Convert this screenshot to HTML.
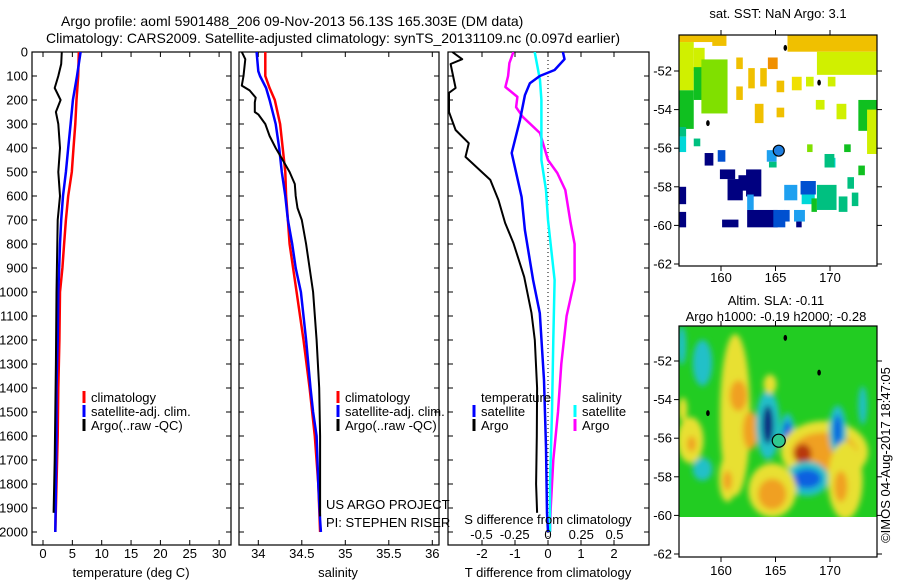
<!DOCTYPE html>
<html><head><meta charset="utf-8"><style>
html,body{margin:0;padding:0;background:#fff;width:900px;height:580px;overflow:hidden}
svg{display:block;font-family:"Liberation Sans",sans-serif}
</style></head><body>
<svg id="fig" width="900" height="580" xmlns="http://www.w3.org/2000/svg">
<defs>
<filter id="blur" x="-50%" y="-50%" width="200%" height="200%"><feGaussianBlur stdDeviation="3"/></filter>
<clipPath id="slaClip"><rect x="679" y="326" width="198" height="191"/></clipPath>
<clipPath id="p1c"><rect x="32" y="52" width="199" height="493"/></clipPath>
<clipPath id="p2c"><rect x="239" y="52" width="200" height="493"/></clipPath>
<clipPath id="p3c"><rect x="448" y="52" width="201" height="493"/></clipPath>
</defs>
<text x="61" y="26" font-size="14">Argo profile: aoml 5901488_206 09-Nov-2013 56.13S 165.303E (DM data)</text>
<text x="46" y="43" font-size="14">Climatology: CARS2009. Satellite-adjusted climatology: synTS_20131109.nc (0.097d earlier)</text>
<text x="778" y="18" font-size="13" text-anchor="middle">sat. SST: NaN Argo: 3.1</text>
<text x="776" y="305" font-size="13" text-anchor="middle">Altim. SLA: -0.11</text>
<text x="776" y="321" font-size="13" text-anchor="middle">Argo h1000: -0.19 h2000: -0.28</text>
<text x="0" y="0" font-size="13" text-anchor="middle" transform="translate(890,455) rotate(-90)">©IMOS 04-Aug-2017 18:47:05</text>
<g id="g"></g>
</svg>
<script>
// ---------- profile data ----------
const tClimDepth=[0,100,200,300,400,500,600,700,800,900,1000,1200,1400,1600,1800,2000];
const tClimVal=[6.1,6.0,5.7,5.5,5.2,4.9,4.3,3.9,3.6,3.3,2.9,2.8,2.6,2.5,2.3,2.1];
const tSatDepth=[0,100,200,300,400,500,600,700,800,1000,1200,1400,1600,1800,2000];
const tSatVal=[6.4,5.8,5.1,4.7,4.3,3.9,3.4,3.1,2.9,2.6,2.5,2.3,2.3,2.2,2.1];
const tArgoDepth=[0,50,100,150,200,250,300,400,500,600,700,1000,1300,1500,1700,1920];
const tArgoVal=[3.2,3.1,2.6,2.0,3.0,2.2,2.6,2.9,2.6,2.9,2.5,2.3,2.2,2.1,2.0,1.8];

const sClimDepth=[0,100,150,200,300,400,500,600,700,800,900,1000,1200,1400,1500,1600,1800,2000];
const sClimVal=[34.08,34.08,34.13,34.19,34.25,34.28,34.31,34.32,34.34,34.36,34.40,34.44,34.52,34.59,34.62,34.65,34.69,34.71];
const sSatDepth=[0,80,100,150,200,300,400,500,600,700,800,900,1000,1200,1400,1500,1600,1800,1950,2000];
const sSatVal=[33.98,34.0,34.02,34.09,34.13,34.20,34.24,34.27,34.31,34.34,34.39,34.43,34.49,34.55,34.60,34.63,34.67,34.69,34.71,34.72];
const sArgoDepth=[0,30,100,140,160,190,210,250,260,300,350,400,450,500,550,600,650,700,800,900,1000,1200,1400,1600,1935];
const sArgoVal=[33.81,33.85,33.83,33.81,33.90,33.97,33.96,33.96,34.0,34.08,34.13,34.20,34.28,34.36,34.42,34.43,34.45,34.50,34.55,34.59,34.63,34.67,34.70,34.71,34.71];

const dTSatDepth=[0,30,75,100,130,180,283,421,604,742,950,1088,1367,1646,1921,2000];
const dTSatVal=[0.45,0.5,0.2,-0.25,-0.55,-0.7,-0.85,-1.1,-0.8,-0.7,-0.45,-0.25,-0.12,-0.06,-0.03,0];
const dTArgoDepth=[0,30,50,150,170,250,325,380,437,533,617,712,796,937,1088,1200,1400,1600,1800,1920];
const dTArgoVal=[-2.9,-2.6,-2.95,-2.8,-3.0,-3.0,-2.8,-2.4,-2.5,-1.75,-1.5,-1.3,-1.05,-0.72,-0.5,-0.4,-0.33,-0.34,-0.36,-0.33];
const dSSatDepth=[0,117,200,350,450,575,700,950,1200,1500,1800,2000];
const dSSatVal=[-0.1,-0.06,-0.05,-0.05,-0.05,-0.015,0.0,0.05,0.04,0.03,0.015,0.015];
const dSArgoDepth=[0,46,100,146,187,230,270,338,450,504,575,712,800,950,1100,1300,1500,1700,1900,2000];
const dSArgoVal=[-0.26,-0.29,-0.30,-0.32,-0.23,-0.24,-0.19,-0.06,0.0,0.07,0.13,0.17,0.2,0.2,0.14,0.1,0.075,0.04,0.02,0.015];

const depthTicks=[0,100,200,300,400,500,600,700,800,900,1000,1100,1200,1300,1400,1500,1600,1700,1800,1900,2000];
const tempTicks=[0,5,10,15,20,25,30];
const salTicks=[34,34.5,35,35.5,36];
const salTickLabels=["34","34.5","35","35.5","36"];
const dTTicks=[-2,-1,0,1,2];
const dSTicks=[-0.5,-0.25,0,0.25,0.5];
const dSTickLabels=["-0.5","-0.25","0","0.25","0.5"];

// ---------- map data ----------
const lonTicks=[160,165,170];
const latTicks=[-52,-54,-56,-58,-60,-62];
const argoLon=165.3, argoLat=-56.13;
const sstLon1=[156.15,156.15,156.15,157.5,157.5,158.2,159.2,161.4,162.5,161.4,163.6,164.3,165.1,165.1,163.1,166.1,168.8,166.5,167.8,168.7,169.8,170.6,172.6,173.4,167.9,171.3,156.15,156.15,157.5,158.5,159.7,164.2,164.4,159.9,160.6,161.6,162.3,162.4,164.8,165.8,156.15,156.15,160.1,162.4,165.8,167.3,167.4,168.8,170.8,168.3,170.0,169.5,171.6,172.6,172.0,166.7,166.9];
const sstLon2=[159.5,157.5,157.5,158.5,159.5,160.6,160.5,162.0,163.1,162.0,164.2,165.2,165.8,165.8,163.9,174.3,174.3,167.4,168.5,169.5,170.5,171.5,174.3,174.3,168.4,171.9,156.8,156.8,158.1,159.3,160.4,165.1,165.1,161.3,162.0,162.5,163.7,165.2,165.9,167.0,156.8,156.8,161.6,163.0,166.3,168.7,168.6,170.6,171.6,168.8,170.5,170.4,172.2,173.2,172.6,167.7,167.4];
const sstLatT=[-50.13,-50.5,-53,-50.8,-51.8,-51.4,-50.13,-51.3,-51.85,-52.8,-51.85,-51.3,-52.5,-53.9,-53.7,-50.13,-51.0,-52.3,-52.3,-53.5,-52.3,-53.7,-53.5,-54.0,-55.8,-55.8,-54.9,-55.4,-55.5,-56.25,-56.1,-56.1,-56.7,-57.1,-57.6,-57.4,-57.1,-59.2,-59.2,-57.9,-58.0,-59.3,-59.7,-58.4,-59.2,-57.7,-58.4,-57.9,-58.5,-58.6,-56.5,-56.3,-57.5,-56.9,-58.3,-59.2,-59.8];
const sstLatB=[-50.5,-53,-55,-52,-53.5,-54.2,-50.7,-51.9,-52.9,-53.5,-52.8,-51.9,-53.1,-54.4,-54.7,-51.0,-52.2,-53.0,-52.8,-54.0,-52.8,-54.5,-55.1,-56.3,-56.2,-56.2,-55.4,-56.2,-55.9,-56.9,-56.7,-56.7,-57.0,-57.6,-58.7,-58.2,-58.5,-60.1,-60.1,-58.7,-58.9,-60.1,-60.1,-59.2,-59.8,-58.4,-58.9,-59.2,-59.3,-59.3,-57.0,-57.0,-58.1,-57.4,-59.0,-59.8,-60.1];
const sstVal=[9,7,5,7,5,6,9,9,9,9,9,10,9,9,9,9,7,8,7,7,7,7,5,7,6,5,4,3,4,0,1,2,4,0,0,0,0,0,1,2,0,0,0,2,1,1,3,4,4,5,3,4,4,5,4,2,0];
const sstPalette=["#000080","#0050d0","#1ea0f0","#00d8d8","#00c080","#10c020","#80e000","#d0f000","#f0e000","#f0c000","#f09000"];
const slaLon=[161.3,156.5,157.2,161.6,162.7,157.3,164.3,164.3,166.1,166.1,169.5,169.5,167.5,167.9,167.9,164.7,164.7,170.7,170.7,158.3,173.0,171.4,171.0,160.6,160.6,158.3,156.4,164.5,156.5];
const slaLat=[-54.8,-54.5,-56.1,-53.8,-55.6,-56.3,-55.3,-55.3,-55.9,-55.9,-56.7,-56.7,-56.8,-58.1,-58.1,-58.7,-58.9,-55.6,-55.6,-52.1,-54.3,-58.2,-58.5,-58.1,-58.2,-57.6,-51.2,-53.2,-54.5];
const slaRLon=[1.4,0.4,1.2,0.8,0.7,0.4,1.1,0.5,0.7,0.4,4.0,3.0,0.8,2.0,1.3,2.2,1.3,0.8,0.4,0.9,0.4,1.6,0.6,0.8,0.4,0.9,0.4,0.6,0.4];
const slaRLat=[4.2,0.6,1.2,0.8,1.0,0.4,1.8,1.0,1.2,0.8,1.6,1.0,0.5,0.9,0.5,1.4,0.8,1.3,0.8,1.2,1.0,2.0,0.8,1.2,0.5,0.6,1.0,0.5,0.6];
const slaVal=[4,4,4,5,5,5,2,0,2,1,4,5,6,2,1,4,5,2,1,2,2,4,5,4,5,2,2,4,4];
const slaPalette=["#102080","#1060e0","#20c0c8","#e0e020","#e8e030","#f0a020","#b83810"];

// ---------- helpers ----------
const NS="http://www.w3.org/2000/svg";
const root=document.getElementById('g');
const FS=13;
function mk(tag,attrs,parent){const e=document.createElementNS(NS,tag);for(const k in attrs)e.setAttribute(k,attrs[k]);(parent||root).appendChild(e);return e;}
function txt(x,y,s,size,anchor,parent){const e=mk('text',{x:x,y:y,'font-size':size,'text-anchor':anchor||'start'},parent);e.textContent=s;return e;}

const yD=d=>52+d*0.24;
const xT=t=>43+t*5.87;
const xS=s=>258.3+(s-34)*87;
const xdT=v=>548+v*33;
const xdS=v=>548+v*133;

function frame(x0,x1,name,xTickPos){
  const r=mk('rect',{x:x0,y:52,width:x1-x0,height:493,fill:'none',stroke:'#000','stroke-width':1.2});
  
  
  depthTicks.forEach(d=>{
    const t1=mk('line',{x1:x0,x2:x0+5,y1:yD(d),y2:yD(d),stroke:'#000'});
    
    
    const t2=mk('line',{x1:x1-5,x2:x1,y1:yD(d),y2:yD(d),stroke:'#000'});
    
    
  });
  xTickPos.forEach(x=>{
    const a=mk('line',{x1:x,x2:x,y1:52,y2:57,stroke:'#000'});
    
    
    const b=mk('line',{x1:x,x2:x,y1:540,y2:545,stroke:'#000'});
    
    
  });
}
function stepLine(depths,vals,xf,color,w,name,clip){
  let d='';
  for(let i=0;i<depths.length;i++){
    const x=xf(vals[i]).toFixed(1),y=yD(depths[i]).toFixed(1);
    if(i===0)d+='M'+x+' '+y;else d+=' L'+x+' '+y;
  }
  const p=mk('path',{d:d,fill:'none',stroke:color,'stroke-width':w,'stroke-linejoin':'round','clip-path':'url(#'+clip+')'});
  
  
}
function legendItem(x,y,color,label,name){
  const m=mk('line',{x1:x,x2:x,y1:y-11,y2:y+1,stroke:color,'stroke-width':3});
  
  
  const t=txt(x+7,y,label,FS);
  
  
}

depthTicks.forEach(d=>{const t=txt(28,yD(d)+4.5,String(d),FS,'end');
  
  });

// ---- panel 1 temperature ----
frame(32,231,'temperature-panel',tempTicks.map(xT));
tempTicks.forEach(t=>{const e=txt(xT(t),558,String(t),FS,'middle');
  
  });
let e1=txt(131,577,'temperature (deg C)',FS,'middle');


stepLine(tClimDepth,tClimVal,xT,'#ff0000',2.5,'temperature-climatology-line','p1c');
stepLine(tSatDepth,tSatVal,xT,'#0000ff',2.5,'temperature-satellite-line','p1c');
stepLine(tArgoDepth,tArgoVal,xT,'#000',2,'temperature-argo-line','p1c');
legendItem(84,402,'#ff0000','climatology','temp-legend-climatology');
legendItem(84,416,'#0000ff','satellite-adj. clim.','temp-legend-satellite');
legendItem(84,430,'#000','Argo(..raw -QC)','temp-legend-argo');

// ---- panel 2 salinity ----
frame(239,439,'salinity-panel',salTicks.map(xS));
salTicks.forEach((s,i)=>{const e=txt(xS(s),558,salTickLabels[i],FS,'middle');
  
  });
let e2=txt(338,577,'salinity',FS,'middle');


stepLine(sClimDepth,sClimVal,xS,'#ff0000',2.5,'salinity-climatology-line','p2c');
stepLine(sSatDepth,sSatVal,xS,'#0000ff',2.5,'salinity-satellite-line','p2c');
stepLine(sArgoDepth,sArgoVal,xS,'#000',2,'salinity-argo-line','p2c');
legendItem(338,402,'#ff0000','climatology','sal-legend-climatology');
legendItem(338,416,'#0000ff','satellite-adj. clim.','sal-legend-satellite');
legendItem(338,430,'#000','Argo(..raw -QC)','sal-legend-argo');
let e3=txt(326,509,'US ARGO PROJECT',FS);


let e4=txt(326,527,'PI: STEPHEN RISER',FS);



// ---- panel 3 differences ----
frame(448,649,'difference-panel',dTTicks.map(xdT));
const zl=mk('line',{x1:548,x2:548,y1:52,y2:545,stroke:'#000','stroke-dasharray':'1,3'});


dTTicks.forEach(t=>{const e=txt(xdT(t),558,String(t),FS,'middle');
  
  });
let e5=txt(548,577,'T difference from climatology',FS,'middle');


stepLine(dTArgoDepth,dTArgoVal,xdT,'#000',2,'t-diff-argo-line','p3c');
stepLine(dSArgoDepth,dSArgoVal,xdS,'#ff00ff',2.5,'s-diff-argo-line','p3c');
stepLine(dSSatDepth,dSSatVal,xdS,'#00ffff',2.5,'s-diff-satellite-line','p3c');
stepLine(dTSatDepth,dTSatVal,xdT,'#0000ff',2.5,'t-diff-satellite-line','p3c');
let e6=txt(481,402,'temperature',FS);


let e7=txt(582,402,'salinity',FS);


legendItem(474,416,'#0000ff','satellite','legend-t-satellite');
legendItem(474,430,'#000','Argo','legend-t-argo');
legendItem(575,416,'#00ffff','satellite','legend-s-satellite');
legendItem(575,430,'#ff00ff','Argo','legend-s-argo');
let e8=txt(548,524,'S difference from climatology',FS,'middle');


dSTicks.forEach((s,i)=>{const e=txt(xdS(s),539,dSTickLabels[i],FS,'middle');
  
  });

// ---------- maps ----------
function mapAxes(top,bottom,latY,lonLabelY,name){
  const r=mk('rect',{x:679,y:top,width:198,height:bottom-top,fill:'none',stroke:'#000','stroke-width':1.2});
  
  
  latTicks.forEach(l=>{const y=latY(l);
    const a=mk('line',{x1:674,x2:679,y1:y,y2:y,stroke:'#000'});
    
    
    const b=mk('line',{x1:877,x2:882,y1:y,y2:y,stroke:'#000'});
    
    
    const t=txt(672,y+4.5,String(l),FS,'end');
    
    });
  lonTicks.forEach(l=>{const x=lonX(l);
    const a=mk('line',{x1:x,x2:x,y1:top-5,y2:top,stroke:'#000'});
    
    
    const b=mk('line',{x1:x,x2:x,y1:bottom,y2:bottom+5,stroke:'#000'});
    
    
    const t=txt(x,lonLabelY,String(l),FS,'middle');
    
    });
}
const lonX=l=>721+(l-160)*10.9;
const latY1=l=>71+(-52-l)*19.3;
const latY2=l=>361+(-52-l)*19.3;
function islands(latY){
  [[165.9,-50.8],[169.0,-52.6],[158.8,-54.7]].forEach(p=>{
    const s=mk('ellipse',{cx:lonX(p[0]),cy:latY(p[1]),rx:1.8,ry:3,fill:'#000'});
    
    
  });
}

for(let i=0;i<sstVal.length;i++){
  const x=lonX(sstLon1[i]),y=latY1(sstLatT[i]);
  const c=mk('rect',{x:x,y:y,width:lonX(sstLon2[i])-x,height:latY1(sstLatB[i])-y,fill:sstPalette[sstVal[i]]});
  
  
}
islands(latY1);
const ac1=mk('circle',{cx:lonX(argoLon),cy:latY1(argoLat),r:5.5,fill:'#1e7fe0',stroke:'#000','stroke-width':1.2});


mapAxes(35,266,latY1,282,'sst-map');

const slaG=mk('g',{'clip-path':'url(#slaClip)'});
const bg=mk('rect',{x:679,y:326,width:198,height:191,fill:'#22cc22'},slaG);


const blobG=mk('g',{filter:'url(#blur)'},slaG);
for(let i=0;i<slaVal.length;i++){
  const b=mk('ellipse',{cx:lonX(slaLon[i]),cy:latY2(slaLat[i]),rx:slaRLon[i]*10.9,ry:slaRLat[i]*19.3,fill:slaPalette[slaVal[i]]},blobG);
  
  
}
islands(latY2);
const ac2=mk('circle',{cx:lonX(argoLon),cy:latY2(argoLat),r:6.5,fill:'#30c890',stroke:'#000','stroke-width':1.2});


mapAxes(326,557,latY2,575,'sla-map');
</script>
</body></html>
